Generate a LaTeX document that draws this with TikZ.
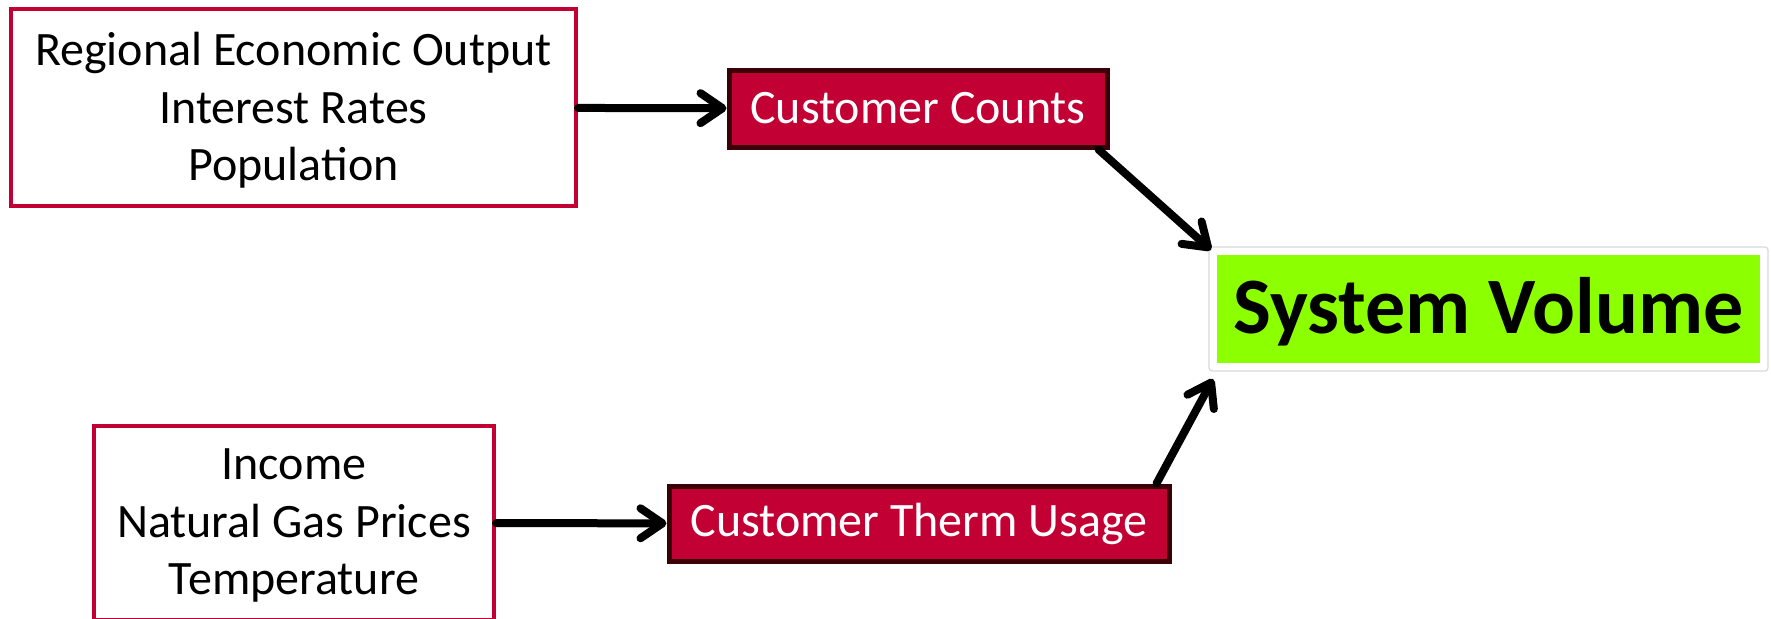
\documentclass[tikz,border=0pt]{standalone}
\usepackage{fontspec}
\setmainfont{Carlito}
\usetikzlibrary{arrows.meta,shadows}

\definecolor{crimson}{HTML}{C20034}
\definecolor{darkmaroon}{HTML}{3A0008}
\definecolor{limegreen}{HTML}{8CFF00}

\begin{document}
\begin{tikzpicture}[x=1pt,y=-1pt,
    inputbox/.style={draw=crimson,line width=4pt,fill=white,align=center,inner sep=0pt,
      text depth=2pt,font=\fontsize{48}{57.5}\selectfont},
    driverbox/.style={draw=darkmaroon,line width=5pt,fill=crimson,text=white,inner sep=0pt,
      font=\fontsize{48}{55}\selectfont},
    flow/.style={line width=8pt,line cap=round,-{Straight Barb[length=22pt,width=30pt,round]}}]
  \clip (0,0) rectangle (1771,618);
  \fill[white] (0,0) rectangle (1771,618);

  \node[inputbox,minimum width=565pt,minimum height=197pt] (econ) at (293.5,107.5)
    {Regional Economic Output\\Interest Rates\\Population};
  \node[inputbox,minimum width=400pt,minimum height=194pt] (weather) at (294,523)
    {Income\\Natural Gas Prices\\Temperature};

  \node[driverbox,minimum width=378pt,minimum height=77pt] (counts) at (918,108.5) {Customer Counts};
  \node[driverbox,minimum width=500pt,minimum height=75pt] (therm) at (919,523.5) {Customer Therm Usage};

  % target box with white rim and soft shadow
  \node[draw=white,line width=8pt,fill=limegreen,inner sep=0pt,
        minimum width=551pt,minimum height=116pt,text depth=8pt,
        drop shadow={opacity=0.25,shadow xshift=2pt,shadow yshift=-3pt},
        font=\fontsize{80}{90}\selectfont\bfseries] (volume) at (1488.5,309) {System Volume};
  \draw[black!15,line width=1.2pt,rounded corners=3pt]
    (volume.north west) rectangle (volume.south east);

  \draw[flow] (econ) -- (counts);
  \draw[flow] (weather) -- (therm);
  \draw[flow] ([xshift=-11pt]counts.south east) -- ([shift={(2pt,-3pt)}]volume.north west);
  \draw[flow] ([xshift=-15pt]therm.north east) -- ([shift={(4pt,-8pt)}]volume.south west);
\end{tikzpicture}
\end{document}
